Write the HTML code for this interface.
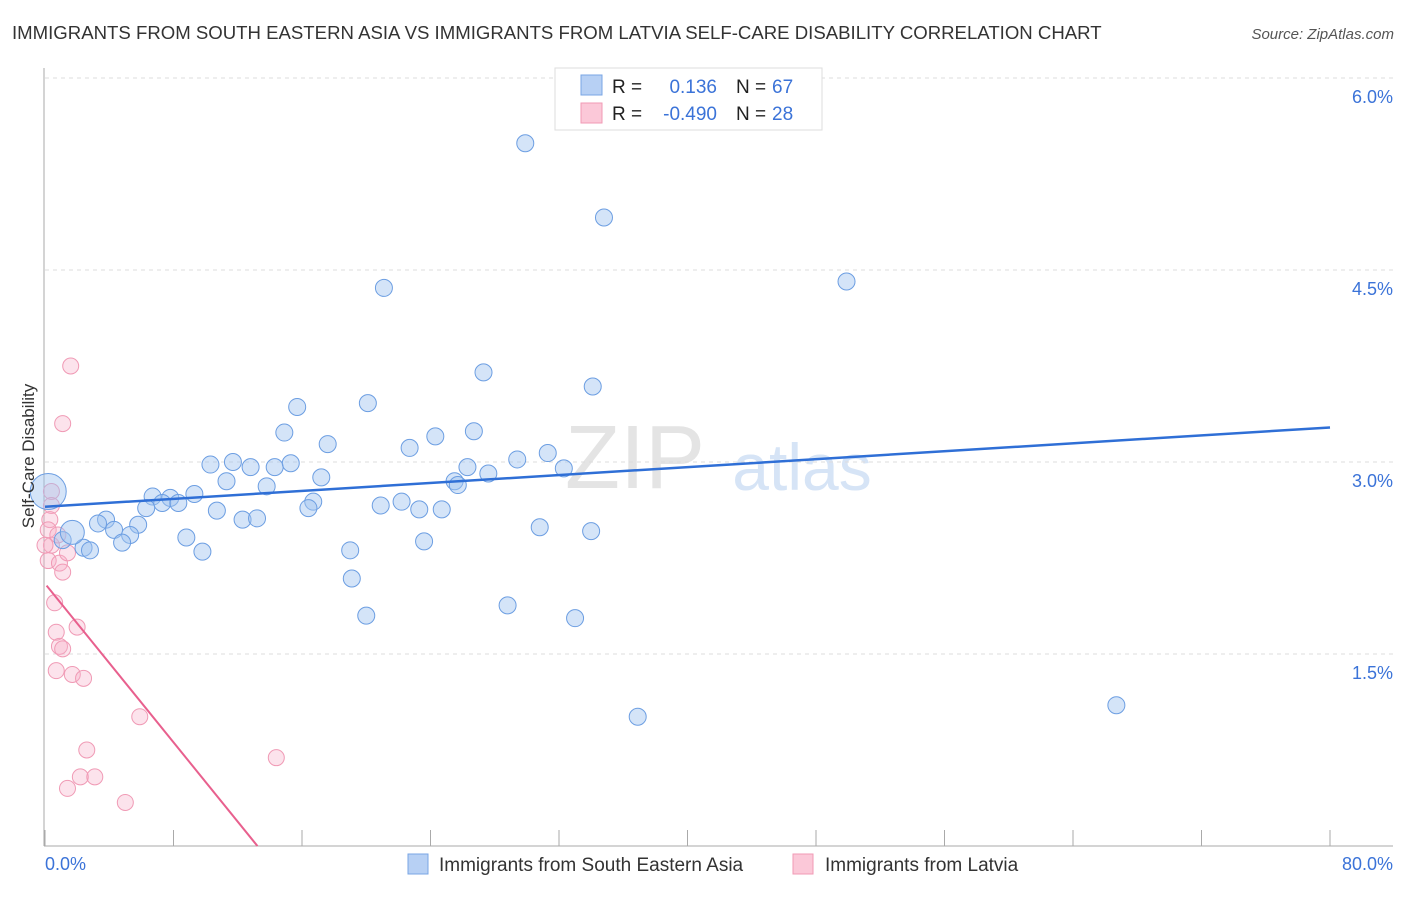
<!DOCTYPE html>
<html><head><meta charset="utf-8"><style>
body{margin:0;background:#fff;font-family:"Liberation Sans",sans-serif}
svg text{font-family:"Liberation Sans",sans-serif}
</style></head><body>
<svg width="1406" height="892" xmlns="http://www.w3.org/2000/svg">
<text x="12" y="39" font-size="18.6" fill="#333">IMMIGRANTS FROM SOUTH EASTERN ASIA VS IMMIGRANTS FROM LATVIA SELF-CARE DISABILITY CORRELATION CHART</text>
<text x="1394" y="39" font-size="15" fill="#555" font-style="italic" text-anchor="end">Source: ZipAtlas.com</text>
<text x="635" y="488" font-size="90" fill="#e4e4e4" text-anchor="middle" font-family="Liberation Serif">ZIP</text>
<text x="802" y="490" font-size="66" fill="#d6e4f6" text-anchor="middle">atlas</text>
<g id="grid"></g>
<g id="axes"></g>
<g id="marks"></g>
<text transform="translate(34,456) rotate(-90)" font-size="17" fill="#333" text-anchor="middle">Self-Care Disability</text>
<g>
<rect x="555" y="68" width="267" height="62" fill="#fff" stroke="#ddd"/>
<rect x="581" y="75" width="21" height="20" fill="#b7d0f4" stroke="#78a6e4"/>
<rect x="581" y="103" width="21" height="20" fill="#fbc8d8" stroke="#f09ab5"/>
<text x="612" y="93" font-size="19" fill="#222">R =</text>
<text x="717" y="93" font-size="19" fill="#3b73d8" text-anchor="end">0.136</text>
<text x="736" y="93" font-size="19" fill="#222">N =</text>
<text x="772" y="93" font-size="19" fill="#3b73d8">67</text>
<text x="612" y="120" font-size="19" fill="#222">R =</text>
<text x="717" y="120" font-size="19" fill="#3b73d8" text-anchor="end">-0.490</text>
<text x="736" y="120" font-size="19" fill="#222">N =</text>
<text x="772" y="120" font-size="19" fill="#3b73d8">28</text>
</g>
<g>
<rect x="408" y="854" width="20" height="20" fill="#b7d0f4" stroke="#78a6e4"/>
<text x="439" y="871" font-size="19" fill="#333">Immigrants from South Eastern Asia</text>
<rect x="793" y="854" width="20" height="20" fill="#fbc8d8" stroke="#f09ab5"/>
<text x="825" y="871" font-size="19" fill="#333">Immigrants from Latvia</text>
</g>
</svg>
<script>
const blueX=[29.9,34.8,21.1,49.9,27.3,34.1,15.7,20.1,14.9,17.6,26.7,24.3,22.7,31.3,29.4,10.3,11.7,12.8,14.3,15.3,26.3,27.6,32.3,17.2,11.3,13.8,25.5,25.7,9.3,6.7,7.8,7.3,8.3,6.3,16.7,16.4,20.9,22.2,23.3,24.7,10.7,12.3,13.2,3.8,3.3,5.8,4.3,30.8,34.0,5.3,1.1,4.8,8.8,23.6,2.4,2.8,19.0,9.8,19.1,28.8,20.0,33.0,36.9,66.7];
const blueY=[5.49,4.91,4.36,4.41,3.70,3.59,3.43,3.46,3.23,3.14,3.24,3.20,3.11,3.07,3.02,2.98,3.00,2.96,2.96,2.99,2.96,2.91,2.95,2.88,2.85,2.81,2.85,2.82,2.75,2.73,2.72,2.68,2.68,2.64,2.69,2.64,2.66,2.69,2.63,2.63,2.62,2.55,2.56,2.55,2.52,2.51,2.47,2.49,2.46,2.43,2.39,2.37,2.41,2.38,2.33,2.31,2.31,2.30,2.09,1.88,1.80,1.78,1.01,1.10];
const blueBigX=[0.2,1.7];
const blueBigY=[2.77,2.45];
const pinkX=[1.6,1.1,0.4,0.4,0.3,0.2,0.4,0.2,0.9,1.1,1.4,0.6,2.0,0.7,0.9,1.1,0.7,1.7,2.4,5.9,2.6,2.2,3.1,1.4,5.0,14.4,0.0,0.8];
const pinkY=[3.75,3.30,2.77,2.66,2.55,2.47,2.35,2.23,2.21,2.14,2.29,1.90,1.71,1.67,1.56,1.54,1.37,1.34,1.31,1.01,0.75,0.54,0.54,0.45,0.34,0.69,2.35,2.43];
const blueTrend=[2.65,3.27];
const pinkTrend=[2.05,-0.155];
const yTicks=[1.5,3.0,4.5,6.0];
const yTickLabels=["1.5%","3.0%","4.5%","6.0%"];
const xTickCount=10;

const NS="http://www.w3.org/2000/svg";
const X0=45,X1=1330,Y0=846,Y1=78;
const sx=v=>X0+(v/80)*(X1-X0);
const sy=v=>Y0-(v/6)*(Y0-Y1);
function mk(tag,attrs,parent){const e=document.createElementNS(NS,tag);for(const k in attrs)e.setAttribute(k,attrs[k]);parent.appendChild(e);return e;}
const grid=document.getElementById('grid'),axes=document.getElementById('axes'),marks=document.getElementById('marks');
yTicks.forEach((t,i)=>{
  const l=mk('line',{x1:X0,x2:1393,y1:sy(t),y2:sy(t),stroke:'#ddd','stroke-dasharray':'4,4'},grid);
  
  
  const tx=mk('text',{x:1393,y:sy(t)+25,'font-size':18,fill:'#3b73d8','text-anchor':'end'},axes);
  tx.textContent=yTickLabels[i];
  
  
});
const ya=mk('line',{x1:44,x2:44,y1:68,y2:Y0,stroke:'#aaa'},axes);


const xa=mk('line',{x1:44,x2:1393,y1:Y0,y2:Y0,stroke:'#aaa'},axes);


for(let i=0;i<=xTickCount;i++){
  const x=sx(i*80/xTickCount);
  const t=mk('line',{x1:x,x2:x,y1:Y0,y2:Y0-16,stroke:'#aaa'},axes);
  
  
}
const xl0=mk('text',{x:45,y:870,'font-size':18,fill:'#3b73d8'},axes);xl0.textContent='0.0%';


const xl1=mk('text',{x:1393,y:870,'font-size':18,fill:'#3b73d8','text-anchor':'end'},axes);xl1.textContent='80.0%';



pinkX.forEach((v,i)=>{
  const c=mk('circle',{cx:sx(v),cy:sy(pinkY[i]),r:8,fill:'rgba(246,176,200,0.35)',stroke:'#f09ab5','stroke-width':1},marks);
  
  
});
blueX.forEach((v,i)=>{
  const c=mk('circle',{cx:sx(v),cy:sy(blueY[i]),r:8.5,fill:'rgba(160,196,240,0.45)',stroke:'#6c9ee2','stroke-width':1},marks);
  
  
});
blueBigX.forEach((v,i)=>{
  const c=mk('circle',{cx:sx(v),cy:sy(blueBigY[i]),r:i==0?18:12,fill:'rgba(160,196,240,0.45)',stroke:'#6c9ee2','stroke-width':1},marks);
  
  
});
const bl=mk('line',{x1:sx(0),y1:sy(blueTrend[0]),x2:sx(80),y2:sy(blueTrend[1]),stroke:'#2f6fd6','stroke-width':2.5},marks);


const xEnd=-pinkTrend[0]/pinkTrend[1];
const pl=mk('line',{x1:sx(0.1),y1:sy(pinkTrend[0]+pinkTrend[1]*0.1),x2:sx(xEnd),y2:sy(0),stroke:'#e8608e','stroke-width':2},marks);


</script>
</body></html>
